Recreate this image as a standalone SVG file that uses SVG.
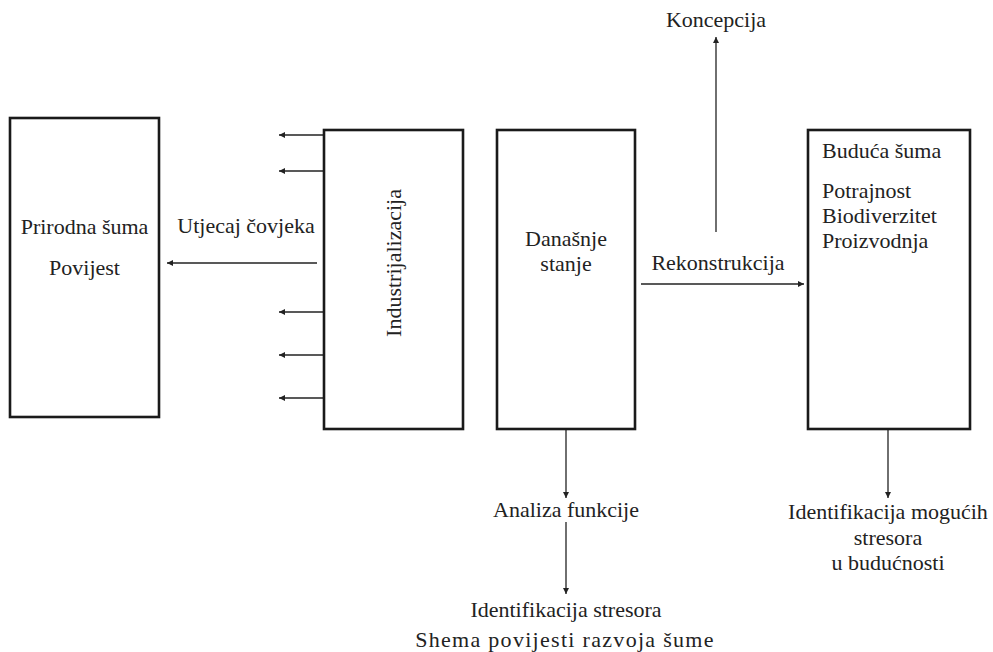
<svg xmlns="http://www.w3.org/2000/svg" width="993" height="652" viewBox="0 0 993 652">
<style>
.box{fill:#fff;stroke:#1a1a1a;stroke-width:2.6}
.ln{stroke:#222;stroke-width:1.3;fill:none}
text{font-family:"Liberation Serif","Times New Roman",serif;font-size:22px;fill:#222}
.m{text-anchor:middle}
.cap{letter-spacing:1.3px}
</style>
<defs>
<marker id="ah" viewBox="0 0 10 10" refX="10" refY="5" markerWidth="9" markerHeight="6" markerUnits="userSpaceOnUse" orient="auto">
<path d="M0,0 L10,5 L0,10 z" fill="#222"/>
</marker>
</defs>
<rect width="993" height="652" fill="#fff"/>
<g id="connectors">
<line class="ln" x1="324" y1="135" x2="279" y2="135" marker-end="url(#ah)"/>
<line class="ln" x1="324" y1="171" x2="279" y2="171" marker-end="url(#ah)"/>
<line class="ln" x1="324" y1="312" x2="279" y2="312" marker-end="url(#ah)"/>
<line class="ln" x1="324" y1="355" x2="279" y2="355" marker-end="url(#ah)"/>
<line class="ln" x1="324" y1="398" x2="279" y2="398" marker-end="url(#ah)"/>
<line class="ln" x1="317" y1="263" x2="167" y2="263" marker-end="url(#ah)"/>
<line class="ln" x1="641" y1="284" x2="804" y2="284" marker-end="url(#ah)"/>
<line class="ln" x1="716" y1="232" x2="716" y2="37" marker-end="url(#ah)"/>
<line class="ln" x1="566" y1="430" x2="566" y2="498" marker-end="url(#ah)"/>
<line class="ln" x1="566" y1="522" x2="566" y2="594" marker-end="url(#ah)"/>
<line class="ln" x1="888" y1="430" x2="888" y2="498" marker-end="url(#ah)"/>
</g>
<g id="prirodna">
<rect class="box" x="10" y="118" width="149" height="299"/>
<text class="m" x="84.5" y="234">Prirodna šuma</text>
<text class="m" x="84.5" y="275">Povijest</text>
</g>
<g id="industrijalizacija">
<rect class="box" x="324" y="130" width="139" height="299"/>
<text class="m" transform="translate(401,263) rotate(-90)">Industrijalizacija</text>
</g>
<g id="danasnje">
<rect class="box" x="497" y="130" width="138" height="299"/>
<text class="m" x="566" y="246">Današnje</text>
<text class="m" x="566" y="271">stanje</text>
</g>
<g id="buduca">
<rect class="box" x="808" y="130" width="162" height="299"/>
<text x="822" y="158">Buduća šuma</text>
<text x="822" y="198">Potrajnost</text>
<text x="822" y="223">Biodiverzitet</text>
<text x="822" y="248">Proizvodnja</text>
</g>
<g id="labels">
<text class="m" x="246" y="233">Utjecaj čovjeka</text>
<text class="m" x="718" y="270">Rekonstrukcija</text>
<text class="m" x="716" y="27">Koncepcija</text>
<text class="m" x="566" y="517">Analiza funkcije</text>
<text class="m" x="566" y="617">Identifikacija stresora</text>
<text class="m" x="888" y="519">Identifikacija mogućih</text>
<text class="m" x="888" y="545">stresora</text>
<text class="m" x="888" y="570">u budućnosti</text>
<text class="m cap" x="565" y="647">Shema povijesti razvoja šume</text>
</g>
</svg>
